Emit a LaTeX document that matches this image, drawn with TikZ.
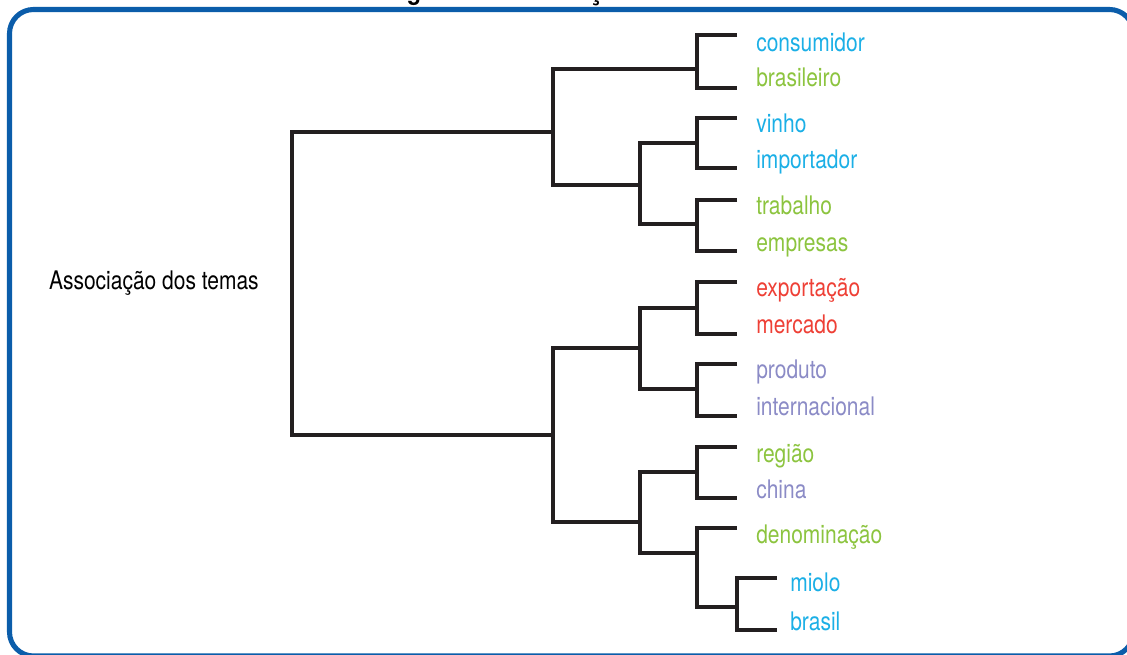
\documentclass[tikz,border=0pt]{standalone}
\usepackage{fontspec}
\newfontfamily\condfont{TeX Gyre Heros}[FakeStretch=0.82]
\definecolor{frameblue}{HTML}{0B5DAA}
\definecolor{tcyan}{HTML}{1BAFE6}
\definecolor{tgreen}{HTML}{8CC43F}
\definecolor{tred}{HTML}{EE4036}
\definecolor{tpurple}{HTML}{8B8BC6}
\definecolor{treeink}{HTML}{231F20}
\tikzset{
  term/.style={font=\condfont\fontsize{19.2}{22}\selectfont, inner sep=0pt, anchor=base west},
  branch/.style={draw=treeink, line width=2.3pt},
  frame/.style={draw=frameblue, line width=3.8pt, rounded corners=18pt},
}
\begin{document}
\begin{tikzpicture}[x=0.75pt,y=-0.75pt]
\useasboundingbox (0,0) rectangle (1127,655);
\clip (0,0) rectangle (1127,655);

% outer frame, partly beyond the page
\draw[frame] (9.5,9.5) rectangle (1133.5,656);

% caption, cut by the top edge
\node[font=\condfont\bfseries\fontsize{21}{24}\selectfont, inner sep=0pt, anchor=base] (caption) at (568,-0.5) {Figura 1 – Associação dos temas};

% leaf bar ends
\coordinate (l1) at (737,35);
\coordinate (l2) at (737,88);
\coordinate (l3) at (737,118);
\coordinate (l4) at (737,168);
\coordinate (l5) at (737,200);
\coordinate (l6) at (737,251);
\coordinate (l7) at (737,282);
\coordinate (l8) at (737,334);
\coordinate (l9) at (737,364);
\coordinate (l10) at (737,416);
\coordinate (l11) at (737,447);
\coordinate (l12) at (737,498);
\coordinate (l13) at (737,528);
\coordinate (l14) at (777,578);
\coordinate (l15) at (777,630);

% junctions
\coordinate (a) at (697,69);
\coordinate (b) at (697,143);
\coordinate (c) at (697,224);
\coordinate (d) at (640,185);
\coordinate (e) at (553,132);
\coordinate (f) at (697,308);
\coordinate (g) at (697,389);
\coordinate (h) at (640,348);
\coordinate (i) at (697,472);
\coordinate (j) at (737,607);
\coordinate (k) at (697,553);
\coordinate (m) at (640,522);
\coordinate (n) at (553,435);
\coordinate (root) at (292,283);

% terms
\node[term, text=tcyan]   (t1)  at (756,52)  {consumidor};
\node[term, text=tgreen]  (t2)  at (756,87)  {brasileiro};
\node[term, text=tcyan]   (t3)  at (756,133) {vinho};
\node[term, text=tcyan]   (t4)  at (756,169) {importador};
\node[term, text=tgreen]  (t5)  at (756,215) {trabalho};
\node[term, text=tgreen]  (t6)  at (756,252) {empresas};
\node[term, text=tred]    (t7)  at (756,297) {exportação};
\node[term, text=tred]    (t8)  at (756,334) {mercado};
\node[term, text=tpurple] (t9)  at (756,379) {produto};
\node[term, text=tpurple] (t10) at (756,416) {internacional};
\node[term, text=tgreen]  (t11) at (756,462) {região};
\node[term, text=tpurple] (t12) at (756,498) {china};
\node[term, text=tgreen]  (t13) at (756,543) {denominação};
\node[term, text=tcyan]   (t14) at (790,591) {miolo};
\node[term, text=tcyan]   (t15) at (790,630) {brasil};

\node[term, anchor=east, text=black] (rootlabel) at (259,283) {Associação dos temas};

% dendrogram
\draw[branch] (l1) -| (a) |- (l2);
\draw[branch] (l3) -| (b) |- (l4);
\draw[branch] (l5) -| (c) |- (l6);
\draw[branch] (b) -| (d) |- (c);
\draw[branch] (a) -| (e) |- (d);
\draw[branch] (l7) -| (f) |- (l8);
\draw[branch] (l9) -| (g) |- (l10);
\draw[branch] (f) -| (h) |- (g);
\draw[branch] (l11) -| (i) |- (l12);
\draw[branch] (l14) -| (j) |- (l15);
\draw[branch] (l13) -| (k) |- (j);
\draw[branch] (i) -| (m) |- (k);
\draw[branch] (h) -| (n) |- (m);
\draw[branch] (e) -| (root) |- (n);
\end{tikzpicture}
\end{document}
